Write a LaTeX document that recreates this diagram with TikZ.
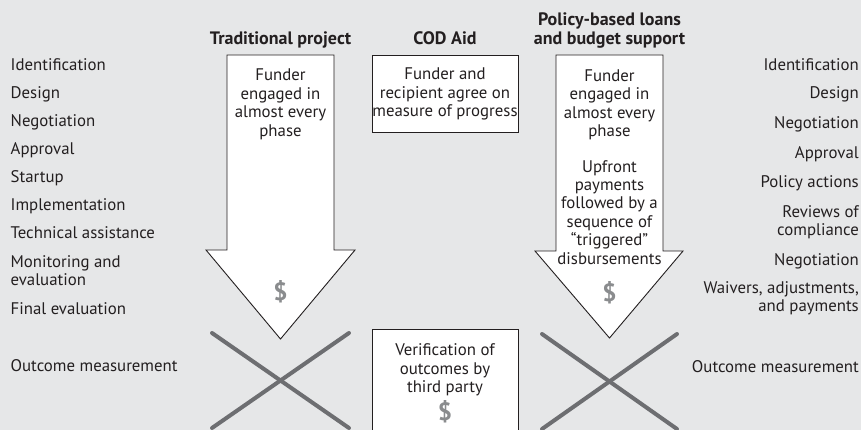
\documentclass[tikz,border=0pt]{standalone}
\usepackage{fontspec}
\setmainfont{PT Sans}
\definecolor{bg}{HTML}{E6E7E8}
\definecolor{ink}{HTML}{231F20}
\definecolor{xgray}{HTML}{6D6E71}
\definecolor{dgray}{HTML}{8A8C8E}
\begin{document}
\begin{tikzpicture}[x=1pt,y=-1pt,
  txt/.style={inner sep=0pt,font=\fontsize{16.8}{18.4}\selectfont,text=ink},
  lbl/.style={txt,anchor=base west},
  rlbl/.style={txt,anchor=base east,align=right},
  ctr/.style={txt,anchor=base,align=center},
  ttl/.style={txt,anchor=base,align=center,font=\fontsize{18}{19}\selectfont\bfseries},
  dollar/.style={inner sep=0pt,font=\fontsize{25}{25}\selectfont\bfseries,text=dgray},
  bigarrow/.style={draw=ink,line width=0.9pt,fill=white,line join=miter},
  boxed/.style={draw=ink,line width=0.9pt,fill=white},
  crossline/.style={draw=xgray,line width=4pt,line cap=round}]
\fill[bg] (0,0) rectangle (861,430);
\useasboundingbox (0,0) rectangle (861,430);

% column titles (anchor base = baseline of last line)
\node[ttl] (t1) at (280.5,45) {Traditional project};
\node[ttl] (t2) at (445,45) {COD Aid};
\node[ttl] (t3) at (609.5,45) {Policy-based loans\\and budget support};

% left arrow
\path[bigarrow] (227,55) -- (334,55) -- (334,250) -- (355,250) -- (280.5,339) -- (206,250) -- (227,250) -- cycle;
\node[ctr] (a1) at (280.5,136.2) {Funder\\engaged in\\almost every\\phase};
\node[dollar] (d1) at (280.5,292) {\$};

% right arrow
\path[bigarrow] (556,55) -- (663,55) -- (663,251) -- (683,251) -- (609.5,338) -- (535,251) -- (556,251) -- cycle;
\node[ctr] (a3) at (609.5,136.7) {Funder\\engaged in\\almost every\\phase};
\node[ctr] (a3b) at (609.5,264) {Upfront\\payments\\followed by a\\sequence of\\“triggered”\\disbursements};
\node[dollar] (d3) at (609.5,293) {\$};

% COD boxes
\path[boxed] (372,55) rectangle (518,132);
\node[ctr] (c1) at (445,116.5) {Funder and\\recipient agree on\\measure of progress};
\path[boxed] (372,436) -- (372,329) -- (518,329) -- (518,436);
\node[ctr] (c2) at (445,392.5) {Verification of\\outcomes by\\third party};
\node[dollar] (d2) at (445,412) {\$};

% crosses
\coordinate (x1a) at (212,333); \coordinate (x1b) at (349,428);
\coordinate (x1c) at (349,333); \coordinate (x1d) at (212,428);
\draw[crossline] (x1a) -- (x1b);
\draw[crossline] (x1c) -- (x1d);
\coordinate (x3a) at (542,334); \coordinate (x3b) at (677,429);
\coordinate (x3c) at (677,334); \coordinate (x3d) at (542,429);
\draw[crossline] (x3a) -- (x3b);
\draw[crossline] (x3c) -- (x3d);

% left phase labels
\node[lbl] (l1) at (10.5,71) {Identification};
\node[lbl] (l2) at (10.5,99) {Design};
\node[lbl] (l3) at (10.5,127) {Negotiation};
\node[lbl] (l4) at (10.5,155) {Approval};
\node[lbl] (l5) at (10.5,183) {Startup};
\node[lbl] (l6) at (10.5,211) {Implementation};
\node[lbl] (l7) at (10.5,239) {Technical assistance};
\node[lbl,align=left] (l8) at (10.5,285.5) {Monitoring and\\evaluation};
\node[lbl] (l9) at (10.5,314) {Final evaluation};
\node[lbl] (l10) at (10.5,371) {Outcome measurement};

% right phase labels
\node[rlbl] (r1) at (859,71) {Identification};
\node[rlbl] (r2) at (859,99) {Design};
\node[rlbl] (r3) at (859,129) {Negotiation};
\node[rlbl] (r4) at (859,159) {Approval};
\node[rlbl] (r5) at (859,188) {Policy actions};
\node[rlbl] (r6) at (859,235.5) {Reviews of\\compliance};
\node[rlbl] (r7) at (859,265) {Negotiation};
\node[rlbl] (r8) at (859,311.5) {Waivers, adjustments,\\and payments};
\node[rlbl] (r9) at (859,372) {Outcome measurement};
\end{tikzpicture}
\end{document}
